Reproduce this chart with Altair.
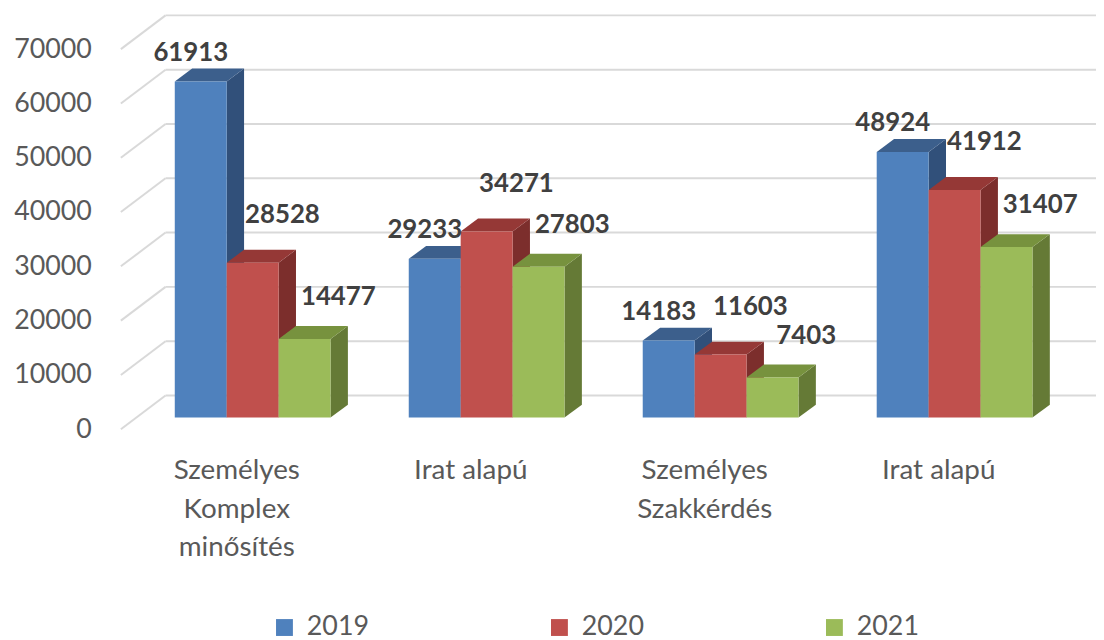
import altair as alt
import pandas as pd

# ---------------- data ----------------
categories = ["Személyes\nKomplex\nminősítés", "Irat alapú", "Személyes\nSzakkérdés", "Irat alapú"]
years = ["2019", "2020", "2021"]
values_2019 = [61913, 29233, 14183, 48924]
values_2020 = [28528, 34271, 11603, 41912]
values_2021 = [14477, 27803, 7403, 31407]
tick_values = [0, 10000, 20000, 30000, 40000, 50000, 60000, 70000]

series = {"2019": values_2019, "2020": values_2020, "2021": values_2021}

# ---------------- styles ----------------
front_colors = {"2019": "#4f81bd", "2020": "#c0504d", "2021": "#9bbb59"}
top_colors = {"2019": "#3c5f8c", "2020": "#953836", "2021": "#77923e"}
side_colors = {"2019": "#31507a", "2020": "#7c2e2c", "2021": "#657a36"}
label_offsets = {"2019": (-10, -29), "2020": (30, -48), "2021": (34, -42)}

FONT = "Lato"
GRID = "#d9d9d9"
TEXT = "#595959"

# layout (pixel geometry of the 3-D projection)
W, H = 1004, 432
PX_U = 52.3                 # pixels per x unit (= one bar width)
PX_V = 0.00547              # pixels per value unit
Y0 = 422                    # view y of value 0 on the front axis
X_FIRST = 76 / PX_U         # left edge of first bar
STEP = 235.7 / PX_U         # distance between groups
D_X = 17.5 / PX_U           # bar depth (x)
D_Y = 13 / PX_V             # bar depth (y)
BASE = 11.7 / PX_V          # bar floor lift
WALL_X = 45 / PX_U          # back wall offset
WALL_Y = 34 / PX_V
AXIS_X = 21.7 / PX_U
XMAX = W / PX_U
YMAX = Y0 / PX_V
YMIN = (Y0 - H) / PX_V

xs = alt.Scale(domain=[0, XMAX], nice=False, zero=False)
ys = alt.Scale(domain=[YMIN, YMAX], nice=False, zero=False)

# ---------------- derived tables ----------------
bars, tops, sides = [], [], []
for g in range(len(categories)):
    for j, yr in enumerate(years):
        v = series[yr][g]
        x0 = X_FIRST + g * STEP + j
        x1 = x0 + 1
        yb, yt = BASE, BASE + v
        bid = f"{g}-{yr}"
        bars.append(dict(id=bid, year=yr, value=v, x0=x0, x1=x1, xc=(x0 + x1) / 2, yb=yb, yt=yt))
        tops += [
            dict(id=bid, col=top_colors[yr], x=x0, y=yt, y2=yt),
            dict(id=bid, col=top_colors[yr], x=x0 + D_X, y=yt, y2=yt + D_Y),
            dict(id=bid, col=top_colors[yr], x=x1, y=yt, y2=yt + D_Y),
            dict(id=bid, col=top_colors[yr], x=x1 + D_X, y=yt + D_Y, y2=yt + D_Y),
        ]
        sides += [
            dict(id=bid, col=side_colors[yr], x=x1, y=yb, y2=yt),
            dict(id=bid, col=side_colors[yr], x=x1 + D_X, y=yb + D_Y, y2=yt + D_Y),
        ]
bars_df = pd.DataFrame(bars)
tops_df = pd.DataFrame(tops)
sides_df = pd.DataFrame(sides)

grid_df = pd.DataFrame({"v": tick_values})
grid_df["ax"] = AXIS_X
grid_df["wx"] = AXIS_X + WALL_X
grid_df["wv"] = grid_df["v"] + WALL_Y
grid_df["xe"] = XMAX

cat_df = pd.DataFrame({
    "cat": categories,
    "xc": [X_FIRST + g * STEP + 1.5 - 16 / PX_U for g in range(len(categories))],
})

# ---------------- layers ----------------
yaxis = alt.Axis(values=tick_values, title=None, domain=False, ticks=False, grid=False,
                 labelFont=FONT, labelFontSize=27, labelColor=TEXT, labelPadding=8,
                 format="d")

grid_side = alt.Chart(grid_df).mark_rule(color=GRID, strokeWidth=2).encode(
    x=alt.X("ax:Q", scale=xs, axis=None),
    y=alt.Y("v:Q", scale=ys, axis=yaxis),
    x2="wx:Q",
    y2="wv:Q",
)
grid_back = alt.Chart(grid_df).mark_rule(color=GRID, strokeWidth=2).encode(
    x=alt.X("wx:Q", scale=xs, axis=None),
    y=alt.Y("wv:Q", scale=ys),
    x2="xe:Q",
)

side_layer = alt.Chart(sides_df).mark_area(opacity=1).encode(
    x=alt.X("x:Q", scale=xs, axis=None),
    y=alt.Y("y:Q", scale=ys, stack=None),
    y2="y2:Q",
    detail="id:N",
    color=alt.Color("col:N", scale=None),
)
top_layer = alt.Chart(tops_df).mark_area(opacity=1).encode(
    x=alt.X("x:Q", scale=xs, axis=None),
    y=alt.Y("y:Q", scale=ys, stack=None),
    y2="y2:Q",
    detail="id:N",
    color=alt.Color("col:N", scale=None),
)
front_layer = alt.Chart(bars_df).mark_rect().encode(
    x=alt.X("x0:Q", scale=xs, axis=None),
    x2="x1:Q",
    y=alt.Y("yb:Q", scale=ys),
    y2="yt:Q",
    color=alt.Color(
        "year:N",
        scale=alt.Scale(domain=years, range=[front_colors[y] for y in years]),
        legend=alt.Legend(
            title=None, orient="none", legendX=173, legendY=608, direction="horizontal",
            symbolType="square", symbolSize=289, symbolStrokeWidth=0, symbolOpacity=1,
            labelFont=FONT, labelFontSize=27, labelColor=TEXT, labelOffset=9,
            columnPadding=178, padding=0,
        ),
    ),
)

label_layers = []
for yr in years:
    dx, dy = label_offsets[yr]
    label_layers.append(
        alt.Chart(bars_df).transform_filter(alt.datum.year == yr).mark_text(
            font=FONT, fontSize=26, fontWeight="bold", color="#404040",
            align="center", baseline="middle", dx=dx, dy=dy,
        ).encode(
            x=alt.X("xc:Q", scale=xs, axis=None),
            y=alt.Y("yt:Q", scale=ys),
            text=alt.Text("value:Q", format="d"),
        )
    )

cat_layer = alt.Chart(cat_df).mark_text(
    font=FONT, fontSize=28, color=TEXT, align="center", baseline="alphabetic",
    lineBreak="\n", lineHeight=39,
).encode(
    x=alt.X("xc:Q", scale=xs, axis=None),
    y=alt.value(472),
    text="cat:N",
)

chart = alt.layer(
    grid_side, grid_back, side_layer, top_layer, front_layer, *label_layers, cat_layer
).properties(
    width=W, height=H,
    background="white",
    autosize=alt.AutoSizeParams(type="none"),
    padding={"left": 92, "top": 0, "right": 0, "bottom": 200},
).configure_view(stroke=None, strokeWidth=0)

chart.save("out.html", embed_options={"renderer": "svg", "actions": False})
